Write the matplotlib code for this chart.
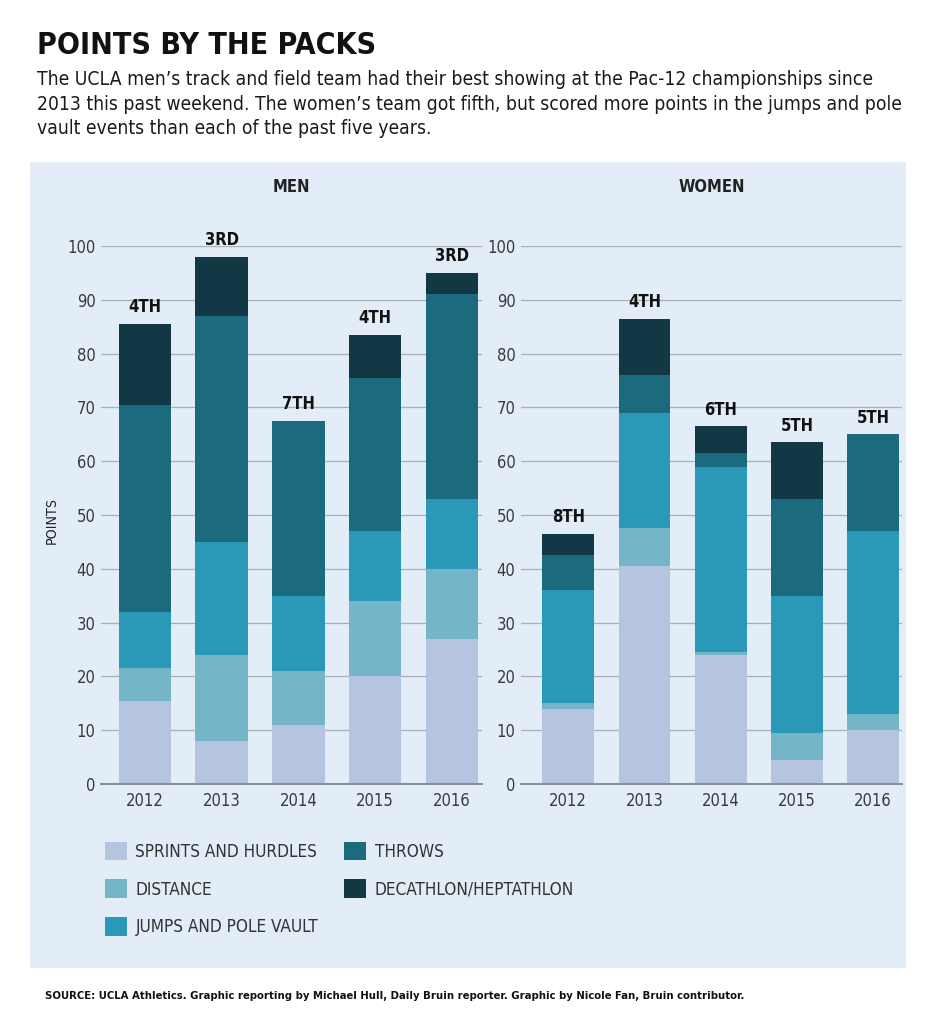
import matplotlib
matplotlib.use("Agg")
import matplotlib.pyplot as plt
from matplotlib import font_manager as fm
from matplotlib.patches import Rectangle, Patch
import numpy as np

# ---------------- data ----------------
years = ["2012", "2013", "2014", "2015", "2016"]
categories = ["SPRINTS AND HURDLES", "DISTANCE", "JUMPS AND POLE VAULT",
              "THROWS", "DECATHLON/HEPTATHLON"]
colors = ["#b5c5df", "#74b5c7", "#2a99b7", "#1c6a7e", "#133845"]

men_sprints = [15.5, 8.0, 11.0, 20.0, 27.0]
men_distance = [6.0, 16.0, 10.0, 14.0, 13.0]
men_jumps = [10.5, 21.0, 14.0, 13.0, 13.0]
men_throws = [38.5, 42.0, 32.5, 28.5, 38.0]
men_decathlon = [15.0, 11.0, 0.0, 8.0, 4.0]
men_places = ["4TH", "3RD", "7TH", "4TH", "3RD"]

women_sprints = [14.0, 40.5, 24.0, 4.5, 10.0]
women_distance = [1.0, 7.0, 0.5, 5.0, 3.0]
women_jumps = [21.0, 21.5, 34.5, 25.5, 34.0]
women_throws = [6.5, 7.0, 2.5, 18.0, 18.0]
women_decathlon = [4.0, 10.5, 5.0, 10.5, 0.0]
women_places = ["8TH", "4TH", "6TH", "5TH", "5TH"]

yticks = [0, 10, 20, 30, 40, 50, 60, 70, 80, 90, 100]

# ---------------- fonts ----------------
names = {f.name for f in fm.fontManager.ttflist}
if "Liberation Sans Narrow" in names:
    FONT = "Liberation Sans Narrow"
    STRETCH = "normal"
    k = 1.0
else:
    FONT = "DejaVu Sans"
    STRETCH = "condensed"
    k = 0.85
plt.rcParams["font.family"] = [FONT, "DejaVu Sans"]

W, H = 933, 1024
fig = plt.figure(figsize=(W / 100, H / 100), dpi=100)
fig.patch.set_facecolor("white")


def fx(px):
    return px / W


def fy(py):
    return 1 - py / H


# panel background
fig.patches.append(Rectangle((fx(30), fy(968)), fx(906) - fx(30), fy(162) - fy(968),
                             transform=fig.transFigure, facecolor="#e2edf7",
                             edgecolor="none", zorder=-5))

# title & subtitle
fig.text(fx(37), fy(45), "POINTS BY THE PACKS", fontsize=25.5 * k, fontweight="bold",
         stretch=STRETCH, color="#111111", va="center", ha="left")
subtitle = ("The UCLA men\u2019s track and field team had their best showing at the Pac-12 championships since\n"
            "2013 this past weekend. The women\u2019s team got fifth, but scored more points in the jumps and pole\n"
            "vault events than each of the past five years.")
fig.text(fx(37), fy(70), subtitle, fontsize=16.3 * k, stretch=STRETCH, color="#1a1a1a",
         va="top", ha="left", linespacing=1.38)


def draw(ax, series, places, xlim_pad):
    x = np.arange(len(years))
    bottom = np.zeros(len(years))
    for vals, col in zip(series, colors):
        v = np.array(vals, dtype=float)
        ax.bar(x, v, bottom=bottom, width=0.68, color=col, edgecolor="none", zorder=3)
        bottom = bottom + v
    for xi, tot, lab in zip(x, bottom, places):
        ax.text(xi, tot + 1.4, lab, ha="center", va="bottom", fontsize=14 * k,
                fontweight="bold", stretch=STRETCH, color="#111111", clip_on=False)
    ax.set_xlim(*xlim_pad)
    ax.set_ylim(0, 100)
    ax.set_yticks(yticks)
    ax.set_xticks(x)
    ax.set_xticklabels(years)
    ax.set_facecolor("none")
    for s in ["top", "right", "left"]:
        ax.spines[s].set_visible(False)
    ax.spines["bottom"].set_color("#8a9098")
    ax.spines["bottom"].set_linewidth(1.5)
    ax.spines["bottom"].set_zorder(4)
    ax.grid(axis="y", color="#a9afb6", linewidth=0.9, zorder=1)
    ax.tick_params(axis="both", length=0, labelsize=14 * k, labelcolor="#3a3a3a")
    ax.tick_params(axis="y", pad=4)
    ax.tick_params(axis="x", pad=6)
    for t in ax.get_xticklabels() + ax.get_yticklabels():
        t.set_stretch(STRETCH)


ax1 = fig.add_axes([fx(101), fy(784), fx(482) - fx(101), fy(246) - fy(784)])
draw(ax1, [men_sprints, men_distance, men_jumps, men_throws, men_decathlon],
     men_places, (-0.57, 4.39))
ax2 = fig.add_axes([fx(521), fy(784), fx(902) - fx(521), fy(246) - fy(784)])
draw(ax2, [women_sprints, women_distance, women_jumps, women_throws, women_decathlon],
     women_places, (-0.62, 4.38))

fig.text(fx(291), fy(187), "MEN", ha="center", va="center", fontsize=14 * k,
         fontweight="bold", stretch=STRETCH, color="#222222")
fig.text(fx(712), fy(187), "WOMEN", ha="center", va="center", fontsize=14 * k,
         fontweight="bold", stretch=STRETCH, color="#222222")
fig.text(fx(52), fy(520), "POINTS", ha="center", va="center", rotation=90,
         fontsize=12 * k, stretch=STRETCH, color="#222222")

handles = [Patch(facecolor=c, edgecolor="none") for c in colors]
leg = fig.legend(handles, categories, loc="upper left",
                 bbox_to_anchor=(fx(96), fy(833)), ncol=2, frameon=False,
                 borderpad=0, handlelength=1.3, handleheight=1.3,
                 handletextpad=0.5, labelspacing=1.1, columnspacing=1.5,
                 prop={"family": [FONT, "DejaVu Sans"], "size": 14.5 * k, "stretch": STRETCH})
for t in leg.get_texts():
    t.set_color("#333333")

fig.text(fx(45), fy(996), "SOURCE: UCLA Athletics. Graphic reporting by Michael Hull, Daily Bruin reporter. "
         "Graphic by Nicole Fan, Bruin contributor.", ha="left", va="center",
         fontsize=9.5 * k, fontweight="bold", stretch=STRETCH, color="#111111")

fig.savefig("out.png", dpi=100, facecolor="white")
